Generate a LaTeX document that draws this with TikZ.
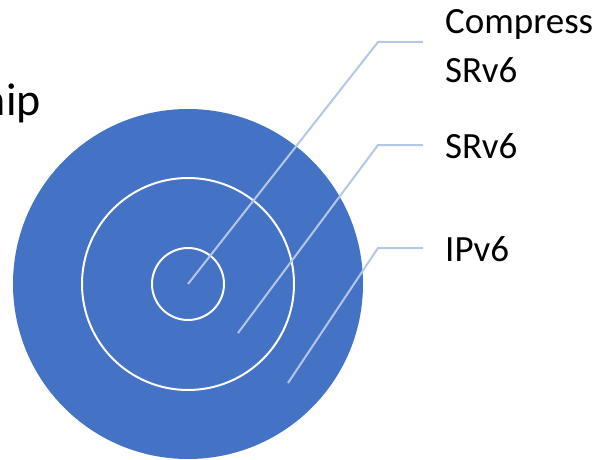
\documentclass[tikz,border=0pt]{standalone}
\usepackage{fontspec}
\setmainfont{Carlito}
\definecolor{ringblue}{HTML}{4472C4}
\definecolor{leader}{HTML}{B4C7E7}
\begin{document}
\begin{tikzpicture}[x=1pt,y=-1pt,
  ring/.style={circle, draw=white, line width=2pt, inner sep=0pt},
  leaderline/.style={draw=leader, line width=2pt},
  label/.style={font=\fontsize{37}{49}\selectfont, anchor=base west, inner sep=0pt, align=left}]
  \useasboundingbox (0,0) rectangle (597,460);

  % concentric discs
  \node[circle, fill=ringblue, inner sep=0pt, minimum size=350pt] (outer) at (188,284) {};
  \node[ring, minimum size=212pt] (middle) at (188,284) {};
  \node[ring, minimum size=72pt] (inner) at (188,284) {};

  % heading fragment
  \node[font=\fontsize{46}{50}\selectfont, anchor=base east, inner sep=0pt] (head) at (41,115) {hip};

  % labels (multi-line node: base anchor sits on its last line)
  \node[label] (lcomp) at (445,82) {Compress\\SRv6};
  \node[label] (lsrv6) at (445,158) {SRv6};
  \node[label] (lipv6) at (445,261) {IPv6};

  % leader end points
  \coordinate (c1) at (188,284);
  \coordinate (c2) at (238,333);
  \coordinate (c3) at (288,383);
  \coordinate (k1) at (378,42);
  \coordinate (k2) at (378,145);
  \coordinate (k3) at (378,248);
  \coordinate (e1) at (423,42);
  \coordinate (e2) at (423,145);
  \coordinate (e3) at (423,248);

  \draw[leaderline] (e1) -- (k1) -- (c1);
  \draw[leaderline] (e2) -- (k2) -- (c2);
  \draw[leaderline] (e3) -- (k3) -- (c3);
\end{tikzpicture}
\end{document}
